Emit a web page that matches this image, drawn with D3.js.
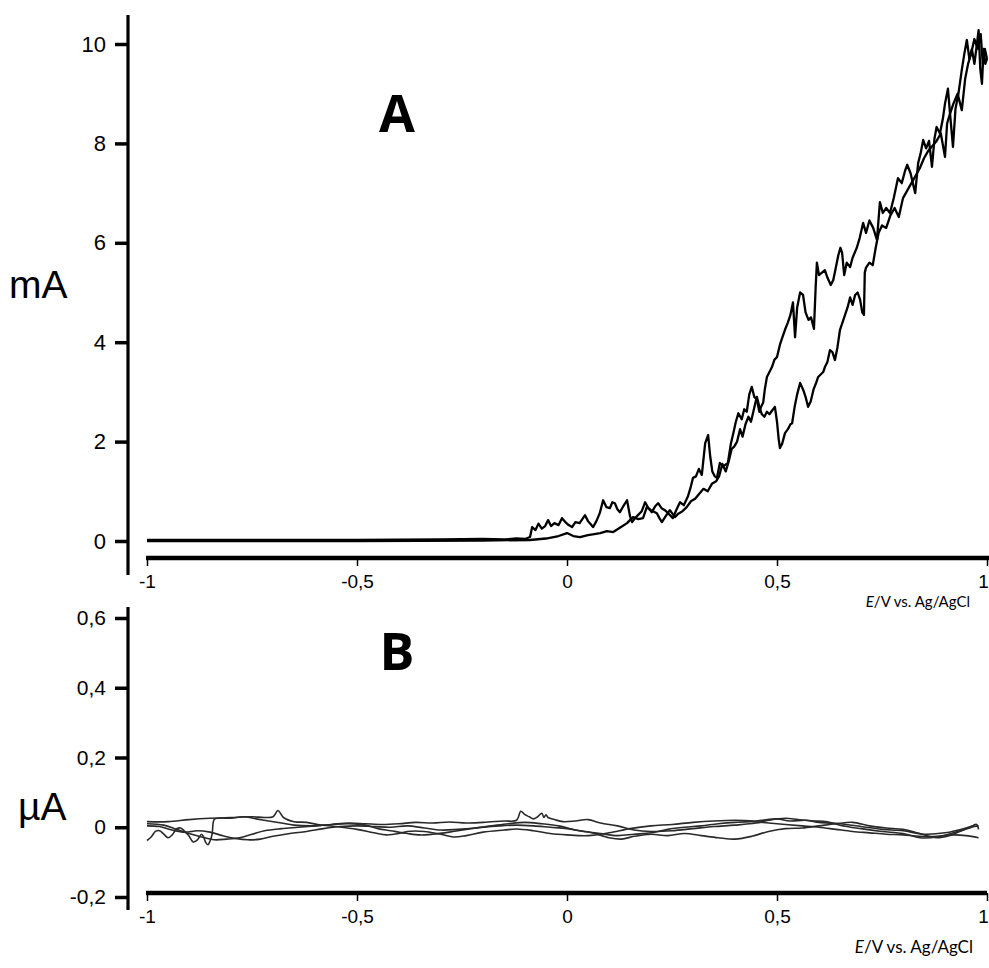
<!DOCTYPE html>
<html><head><meta charset="utf-8">
<script src="https://cdn.jsdelivr.net/npm/d3@7"></script>
<style>body{margin:0;background:#fff}svg{display:block}</style>
</head><body>
<script>
// ---------- DATA ----------
const xTicks = [-1, -0.5, 0, 0.5, 1];
const xTickLabels = ["-1", "-0,5", "0", "0,5", "1"];
const yTicksA = [0, 2, 4, 6, 8, 10];
const yTickLabelsA = ["0", "2", "4", "6", "8", "10"];
const yTicksB = [-0.2, 0, 0.2, 0.4, 0.6];
const yTickLabelsB = ["-0,2", "0", "0,2", "0,4", "0,6"];
const unitA = "mA", unitB = "µA";
const panelLabels = ["A", "B"];
const xTitle = "V vs. Ag/AgCl";

// Panel A: E (V) and current (mA), upper branch
const scanUpperE = [-1.00,-0.50,-0.30,-0.20,-0.15,-0.12,-0.10,-0.088,-0.083,-0.075,-0.068,-0.060,-0.052,-0.045,-0.038,-0.030,-0.020,-0.012,-0.004,0.004,0.012,0.020,0.030,0.043,0.050,0.056,0.062,0.070,0.078,0.086,0.094,0.102,0.108,0.114,0.120,0.126,0.134,0.143,0.150,0.155,0.162,0.169,0.178,0.186,0.194,0.202,0.210,0.217,0.225,0.233,0.242,0.252,0.260,0.269,0.278,0.288,0.295,0.300,0.307,0.314,0.321,0.329,0.336,0.341,0.346,0.352,0.357,0.364,0.372,0.383,0.390,0.396,0.402,0.408,0.416,0.422,0.428,0.434,0.440,0.446,0.452,0.458,0.462,0.467,0.471,0.476,0.482,0.488,0.494,0.500,0.507,0.513,0.519,0.526,0.532,0.538,0.543,0.548,0.555,0.562,0.568,0.575,0.581,0.588,0.592,0.595,0.600,0.607,0.614,0.620,0.628,0.634,0.640,0.646,0.651,0.655,0.660,0.666,0.674,0.680,0.690,0.697,0.705,0.712,0.720,0.729,0.738,0.745,0.752,0.760,0.769,0.778,0.788,0.797,0.805,0.810,0.818,0.829,0.836,0.842,0.848,0.855,0.862,0.869,0.875,0.880,0.888,0.895,0.900,0.907,0.912,0.919,0.925,0.932,0.940,0.946,0.952,0.958,0.964,0.970,0.976,0.980,0.984,0.988,0.992,0.996,1.000];
const scanUpperI = [0.02,0.02,0.03,0.04,0.03,0.05,0.04,0.08,0.28,0.22,0.35,0.25,0.30,0.42,0.30,0.36,0.32,0.46,0.38,0.32,0.28,0.38,0.36,0.52,0.40,0.34,0.28,0.40,0.56,0.82,0.68,0.66,0.78,0.76,0.64,0.58,0.70,0.82,0.50,0.38,0.46,0.52,0.60,0.78,0.66,0.58,0.70,0.76,0.66,0.62,0.55,0.46,0.62,0.78,0.72,0.90,1.10,1.27,1.30,1.45,1.33,1.97,2.13,1.70,1.40,1.30,1.27,1.57,1.50,1.57,1.95,2.17,2.40,2.57,2.45,2.65,2.60,2.95,3.10,2.90,2.85,2.60,2.70,2.78,3.05,3.30,3.40,3.50,3.65,3.70,3.95,4.10,4.25,4.40,4.55,4.80,4.10,4.70,5.00,4.95,4.60,4.45,4.50,4.27,5.10,5.60,5.35,5.40,5.45,5.30,5.15,5.25,5.50,5.75,5.90,5.80,5.35,5.60,5.51,5.70,5.90,6.10,6.40,6.20,6.45,6.30,6.06,6.82,6.60,6.70,6.60,6.90,7.30,7.20,7.45,7.57,7.40,7.00,7.60,7.80,8.07,7.90,8.05,7.53,8.10,8.33,8.20,8.50,8.80,9.10,8.60,7.93,8.70,9.00,9.48,9.80,10.08,9.70,9.90,9.60,10.00,10.28,9.50,9.20,9.90,9.60,9.70];

// Panel A: lower branch
const scanLowerE = [-1.00,-0.50,-0.20,-0.088,-0.05,-0.02,0.000,0.015,0.031,0.050,0.065,0.079,0.095,0.110,0.125,0.143,0.157,0.170,0.181,0.190,0.200,0.214,0.220,0.226,0.235,0.245,0.257,0.265,0.275,0.285,0.295,0.305,0.315,0.325,0.335,0.345,0.355,0.362,0.370,0.378,0.385,0.392,0.398,0.405,0.412,0.418,0.425,0.432,0.438,0.445,0.452,0.458,0.464,0.470,0.476,0.482,0.488,0.495,0.500,0.504,0.507,0.512,0.519,0.526,0.532,0.536,0.542,0.548,0.555,0.562,0.568,0.574,0.580,0.587,0.594,0.598,0.604,0.610,0.614,0.620,0.626,0.632,0.638,0.644,0.650,0.656,0.662,0.668,0.674,0.680,0.686,0.692,0.698,0.703,0.707,0.709,0.712,0.720,0.728,0.735,0.742,0.750,0.760,0.770,0.780,0.790,0.800,0.810,0.820,0.830,0.840,0.850,0.860,0.870,0.880,0.890,0.900,0.905,0.912,0.920,0.930,0.940,0.948,0.955,0.962,0.970,0.978,0.985,0.990,0.995,1.000];
const scanLowerI = [0.00,0.00,0.01,0.02,0.05,0.10,0.16,0.10,0.08,0.12,0.14,0.16,0.20,0.18,0.26,0.36,0.48,0.44,0.46,0.68,0.62,0.56,0.46,0.38,0.50,0.62,0.48,0.55,0.60,0.68,0.80,0.85,0.95,1.05,1.00,1.15,1.20,1.30,1.55,1.40,1.60,1.85,1.90,2.00,2.25,2.10,2.35,2.50,2.40,2.65,2.90,2.70,2.55,2.50,2.60,2.55,2.62,2.70,2.40,2.05,1.87,1.95,2.17,2.25,2.35,2.37,2.70,2.95,3.18,3.05,2.90,2.70,2.80,3.05,3.20,3.30,3.35,3.40,3.50,3.60,3.84,3.80,3.64,3.90,4.25,4.40,4.55,4.70,4.90,4.75,4.95,5.00,4.85,4.60,4.55,5.40,5.50,5.60,5.55,5.90,6.20,6.35,6.30,6.55,6.70,6.52,6.90,7.05,7.20,7.35,7.50,7.70,7.85,7.95,8.05,8.20,7.73,8.40,8.60,8.80,9.00,8.67,9.30,9.60,9.80,10.10,9.90,10.20,9.60,9.90,9.70];

// Panel B: four scans, E (V) and current (µA)
const b1E = [-1,-0.95,-0.90,-0.85,-0.80,-0.75,-0.72,-0.70,-0.688,-0.675,-0.65,-0.62,-0.59,-0.55,-0.50,-0.46,-0.43,-0.40,-0.38,-0.34,-0.30,-0.27,-0.24,-0.20,-0.15,-0.12,-0.08,-0.04,0.0,0.05,0.10,0.15,0.20,0.25,0.30,0.35,0.40,0.45,0.50,0.53,0.57,0.60,0.65,0.70,0.75,0.80,0.85,0.90,0.95,0.97];
const b1I = [0.016,0.016,0.022,0.026,0.028,0.030,0.028,0.030,0.048,0.028,0.016,0.014,0.007,0.002,-0.006,-0.016,-0.022,-0.018,-0.012,-0.012,-0.020,-0.028,-0.024,-0.014,-0.008,-0.005,-0.010,-0.018,-0.022,-0.024,-0.016,-0.004,0.004,0.008,0.014,0.018,0.020,0.018,0.024,0.018,0.020,0.014,0.010,0.002,-0.006,-0.010,-0.020,-0.016,-0.002,0.006];
const b2E = [-1,-0.99,-0.98,-0.97,-0.96,-0.95,-0.94,-0.93,-0.92,-0.91,-0.90,-0.89,-0.88,-0.87,-0.865,-0.86,-0.855,-0.85,-0.845,-0.84,-0.83,-0.80,-0.77,-0.74,-0.71,-0.68,-0.65,-0.60,-0.56,-0.52,-0.48,-0.44,-0.40,-0.36,-0.32,-0.28,-0.24,-0.20,-0.15,-0.12,-0.11,-0.10,-0.09,-0.08,-0.07,-0.06,-0.055,-0.05,-0.045,-0.03,-0.01,0.02,0.05,0.08,0.12,0.16,0.20,0.25,0.30,0.35,0.40,0.45,0.48,0.52,0.55,0.58,0.62,0.65,0.70,0.75,0.80,0.84,0.88,0.92,0.96,0.975,0.98];
const b2I = [-0.038,-0.028,-0.012,-0.010,-0.020,-0.030,-0.022,-0.005,-0.002,-0.012,-0.025,-0.042,-0.036,-0.020,-0.028,-0.044,-0.050,-0.040,-0.020,0.022,0.026,0.026,0.030,0.024,0.018,0.012,0.006,0.004,0.008,0.012,0.010,0.008,0.010,0.014,0.012,0.015,0.012,0.014,0.018,0.020,0.046,0.036,0.030,0.024,0.030,0.040,0.028,0.036,0.028,0.022,0.016,0.018,0.022,0.012,0.004,-0.008,-0.012,-0.010,-0.004,0.002,0.006,0.012,0.020,0.026,0.022,0.018,0.016,0.006,-0.004,-0.012,-0.018,-0.030,-0.028,-0.016,0.000,0.008,-0.006];
const b3E = [-1,-0.96,-0.93,-0.90,-0.87,-0.84,-0.81,-0.78,-0.75,-0.72,-0.68,-0.64,-0.60,-0.56,-0.52,-0.48,-0.45,-0.42,-0.38,-0.35,-0.32,-0.28,-0.24,-0.20,-0.16,-0.12,-0.08,-0.04,0.00,0.04,0.08,0.12,0.16,0.20,0.24,0.28,0.32,0.36,0.40,0.44,0.48,0.52,0.56,0.60,0.64,0.68,0.72,0.76,0.80,0.84,0.88,0.92,0.95,0.98];
const b3I = [0.010,0.006,-0.006,-0.018,-0.028,-0.036,-0.034,-0.030,-0.020,-0.010,-0.004,0.000,0.004,0.008,0.010,0.006,-0.004,-0.010,-0.018,-0.022,-0.020,-0.014,-0.006,0.000,0.004,0.006,0.004,0.000,-0.004,-0.012,-0.018,-0.024,-0.020,-0.016,-0.006,0.000,0.004,0.010,0.014,0.016,0.012,0.008,0.004,0.000,-0.006,-0.012,-0.016,-0.020,-0.022,-0.026,-0.026,-0.022,-0.024,-0.030];
const b4E = [-1,-0.97,-0.94,-0.91,-0.88,-0.85,-0.82,-0.79,-0.76,-0.73,-0.70,-0.66,-0.62,-0.58,-0.54,-0.50,-0.46,-0.42,-0.38,-0.34,-0.30,-0.26,-0.22,-0.18,-0.14,-0.10,-0.06,-0.02,0.02,0.06,0.10,0.13,0.16,0.20,0.24,0.28,0.32,0.36,0.40,0.44,0.48,0.52,0.56,0.60,0.64,0.68,0.72,0.76,0.80,0.84,0.88,0.91,0.94,0.97,0.98];
const b4I = [0.004,0.002,-0.008,-0.014,-0.010,-0.014,-0.024,-0.032,-0.036,-0.034,-0.026,-0.018,-0.012,-0.004,0.002,0.004,0.002,0.000,0.004,-0.002,-0.008,-0.006,-0.002,0.004,0.010,0.014,0.010,0.004,-0.008,-0.016,-0.030,-0.034,-0.026,-0.020,-0.024,-0.018,-0.024,-0.030,-0.034,-0.026,-0.012,-0.004,-0.002,0.004,0.010,0.014,0.004,-0.002,-0.006,-0.018,-0.030,-0.024,-0.010,0.002,0.004];

// ---------- DRAW ----------
const W = 989, H = 968;
const svg = d3.select("body").append("svg").attr("width", W).attr("height", H);
const fontSans = "Liberation Sans, Arial, sans-serif";
const fontLabel = "Lato, 'Open Sans', sans-serif";

const x = d3.scaleLinear().domain([-1, 1]).range([147, 987]);
const yA = d3.scaleLinear().domain([0, 10]).range([541, 44]);
const yB = d3.scaleLinear().domain([-0.2, 0.6]).range([897, 618]);
const axisX0 = 128;

function zip(e, i) { return e.map((v, k) => [v, i[k]]); }

function drawPanel(cfg) {
  const g = svg.append("g");
  // y axis
  const ya = d3.axisLeft(cfg.y).tickValues(cfg.yTicks)
    .tickFormat((d, k) => cfg.yLabels[k]).tickSize(13).tickPadding(9).tickSizeOuter(0);
  const gy = g.append("g").attr("transform", `translate(${axisX0},0)`).call(ya);
  gy.select(".domain").remove();
  gy.selectAll(".tick line").attr("stroke", "#000").attr("stroke-width", 3.5);
  gy.selectAll(".tick text").attr("font-family", fontSans).attr("font-size", cfg.yFont).attr("fill", "#000");
  g.append("line").attr("x1", axisX0).attr("x2", axisX0).attr("y1", cfg.yLine[0]).attr("y2", cfg.yLine[1])
    .attr("stroke", "#000").attr("stroke-width", 3.2);
  // x axis
  const xa = d3.axisBottom(x).tickValues(xTicks).tickFormat((d, k) => xTickLabels[k])
    .tickSize(8).tickPadding(9).tickSizeOuter(0);
  const gx = g.append("g").attr("transform", `translate(0,${cfg.xAxisY})`).call(xa);
  gx.select(".domain").remove();
  gx.selectAll(".tick line").attr("stroke", "#000").attr("stroke-width", 1.5);
  gx.selectAll(".tick text").attr("font-family", fontSans).attr("font-size", 19).attr("fill", "#000")
    .attr("dx", (d, k) => k === xTicks.length - 1 ? -4 : 0);
  g.append("line").attr("x1", 146).attr("x2", cfg.xLineEnd).attr("y1", cfg.xAxisY).attr("y2", cfg.xAxisY)
    .attr("stroke", "#000").attr("stroke-width", 4.5);
  // data
  const line = d3.line().x(d => x(d[0])).y(d => cfg.y(d[1])).curve(cfg.curve);
  cfg.series.forEach(s => {
    g.append("path").datum(s).attr("d", line).attr("fill", "none")
      .attr("stroke", cfg.stroke).attr("stroke-width", cfg.sw).attr("stroke-linejoin", "round");
  });
  // unit label
  g.append("text").attr("x", cfg.unitPos[0]).attr("y", cfg.unitPos[1]).attr("font-family", fontSans)
    .attr("font-size", 39).attr("fill", "#000").text(cfg.unit);
  // panel letter
  g.append("text").attr("x", cfg.letterPos[0]).attr("y", cfg.letterPos[1]).attr("font-family", "'Open Sans', Lato, sans-serif")
    .attr("font-weight", "bold").attr("font-size", 52).attr("text-anchor", "middle").attr("fill", "#000").text(cfg.letter);
  // x title
  const t = g.append("text").attr("x", cfg.titlePos[0]).attr("y", cfg.titlePos[1]).attr("text-anchor", "end")
    .attr("font-family", fontLabel).attr("font-size", cfg.titleFont).attr("fill", "#000");
  t.append("tspan").attr("font-style", "italic").text("E");
  t.append("tspan").text("/" + xTitle);
}

drawPanel({
  y: yA, yTicks: yTicksA, yLabels: yTickLabelsA, yFont: 22, yLine: [15, 575],
  xAxisY: 558, xLineEnd: 989, curve: d3.curveLinear, stroke: "#000", sw: 2.3,
  series: [zip(scanLowerE, scanLowerI), zip(scanUpperE, scanUpperI)],
  unit: unitA, unitPos: [9, 298], letter: panelLabels[0], letterPos: [397, 132],
  titlePos: [970, 607], titleFont: 15
});
drawPanel({
  y: yB, yTicks: yTicksB, yLabels: yTickLabelsB, yFont: 21, yLine: [607, 910],
  xAxisY: 893, xLineEnd: 987, curve: d3.curveCatmullRom, stroke: "#2a2a2a", sw: 1.6,
  series: [zip(b1E, b1I), zip(b2E, b2I), zip(b3E, b3I), zip(b4E, b4I)],
  unit: unitB, unitPos: [18, 820], letter: panelLabels[1], letterPos: [397, 670],
  titlePos: [973, 953], titleFont: 17
});
</script>
</body></html>
